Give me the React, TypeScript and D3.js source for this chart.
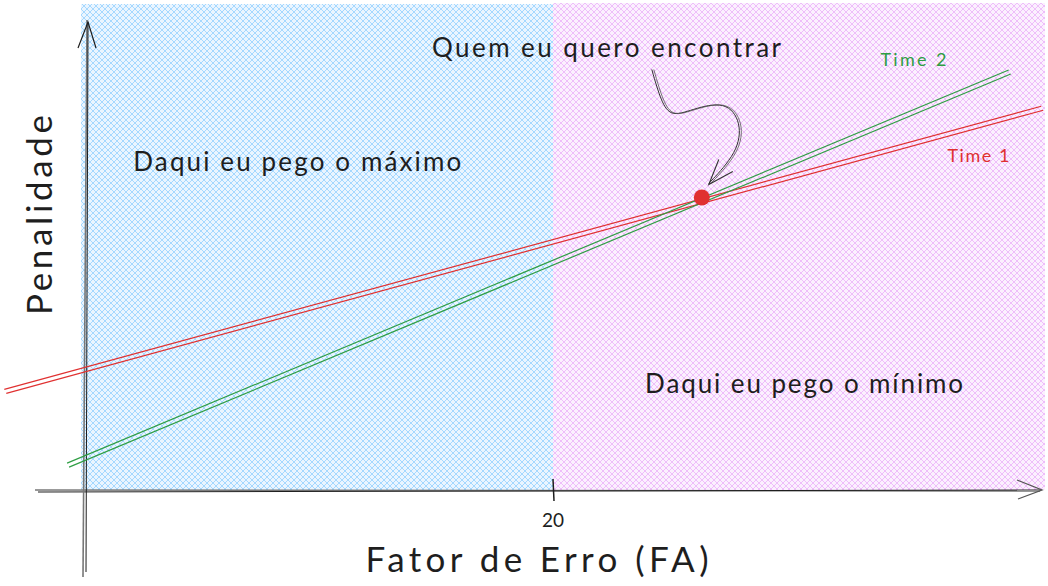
import React, { useRef, useEffect } from 'react';
import { select, scaleLinear, line, curveBasis } from 'd3';

const W = 1048;
const H = 586;

// x = fator de erro (FA), y = penalidade
const faDomain = [0, 20];
const penDomain = [0, 20];
const splitFa = 20;
const xTicks = [20];

const time1 = [{ fa: -3.6, pen: 4.3 }, { fa: 41, pen: 16.4 }];
const time2 = [{ fa: -0.9, pen: 1.15 }, { fa: 39.6, pen: 17.95 }];
const meet = { fa: 26.4, pen: 12.5 };

const labels = [
  { text: 'Time 2', fa: 35.5, pen: 18.1, color: '#2f9e44', len: 66 },
  { text: 'Time 1', fa: 38.3, pen: 14.0, color: '#e03131', len: 62 },
];
const notes = [
  { text: 'Quem eu quero encontrar', fa: 22.3, pen: 18.5, len: 349 },
  { text: 'Daqui eu pego o máximo', fa: 9.0, pen: 13.65, len: 328 },
  { text: 'Daqui eu pego o mínimo', fa: 30.8, pen: 4.15, len: 318 },
];

const FONT = "'Lato', 'DejaVu Sans', sans-serif";
const INK = '#1e1e1e';

const App: React.FC = () => {
  const svgRef = useRef<SVGSVGElement | null>(null);

  useEffect(() => {
    if (!svgRef.current) return;
    const svg = select(svgRef.current);
    svg.selectAll('*').remove();

    const x = scaleLinear().domain(faDomain).range([88, 553]);
    const y = scaleLinear().domain(penDomain).range([490, 22]);

    const defs = svg.append('defs');
    const hatch = (id: string, color: string, bg: string) => {
      const p = defs.append('pattern').attr('id', id).attr('patternUnits', 'userSpaceOnUse')
        .attr('width', 6).attr('height', 6);
      p.append('rect').attr('width', 6).attr('height', 6).attr('fill', bg);
      p.append('path').attr('d', 'M-1,1 l2,-2 M0,6 l6,-6 M5,7 l2,-2').attr('stroke', color).attr('stroke-width', 1);
      p.append('path').attr('d', 'M-1,5 l2,2 M0,0 l6,6 M5,-1 l2,2').attr('stroke', color).attr('stroke-width', 1);
    };
    hatch('hb', '#a5d8ff', '#eaf5ff');
    hatch('hp', '#eebefa', '#fbf0fe');

    // regions
    svg.append('rect').attr('x', 81).attr('y', 4).attr('width', x(splitFa) - 81).attr('height', y(0) - 4)
      .attr('fill', 'url(#hb)');
    svg.append('rect').attr('x', x(splitFa)).attr('y', 3).attr('width', 1045 - x(splitFa)).attr('height', y(0) - 3)
      .attr('fill', 'url(#hp)');

    // axes (double hand-drawn strokes)
    const g = svg.append('g').attr('fill', 'none');
    g.append('path').attr('d', `M35,${y(0)} L1040,${y(0) + 1}`).attr('stroke', '#777').attr('stroke-width', 1.6);
    g.append('path').attr('d', `M38,${y(0) + 2} L1040,${y(0)}`).attr('stroke', INK).attr('stroke-width', 1);
    g.append('path').attr('d', `M1017,${y(0) - 10} L1042,${y(0)} L1018,${y(0) + 9}`).attr('stroke', '#555').attr('stroke-width', 1.3);
    g.append('path').attr('d', `M83,577 L87,20`).attr('stroke', '#777').attr('stroke-width', 1.6);
    g.append('path').attr('d', `M86,572 L88,22`).attr('stroke', INK).attr('stroke-width', 1);
    g.append('path').attr('d', `M78,48 L88,22 L96,48`).attr('stroke', INK).attr('stroke-width', 1.2);

    xTicks.forEach(t => {
      g.append('path').attr('d', `M${x(t)},${y(0) - 11} L${x(t) + 1},${y(0) + 11}`).attr('stroke', INK).attr('stroke-width', 1.5);
      svg.append('text').attr('x', x(t)).attr('y', 527).attr('text-anchor', 'middle')
        .attr('font-family', FONT).attr('font-size', 19).attr('fill', INK).text(String(t));
    });

    // team lines
    const ln = line<{ fa: number; pen: number }>().x(d => x(d.fa)).y(d => y(d.pen));
    const drawTeam = (pts: typeof time1, color: string) => {
      g.append('path').attr('d', ln(pts)).attr('stroke', color).attr('stroke-width', 1.2);
      g.append('path').attr('d', ln(pts)).attr('transform', 'translate(2,4)').attr('stroke', color).attr('stroke-width', 1.2);
    };
    drawTeam(time1, '#e03131');
    drawTeam(time2, '#2f9e44');

    // curved arrow pointing at the meeting point
    const mx = x(meet.fa), my = y(meet.pen);
    const offs: [number, number][] = [[-50, -128], [-42, -100], [-32, -80], [-10, -88], [24, -97], [40, -75], [36, -45], [7, -14]];
    const curve = line<[number, number]>().x(d => mx + d[0]).y(d => my + d[1]).curve(curveBasis);
    g.append('path').attr('d', curve(offs)).attr('stroke', '#333').attr('stroke-width', 1);
    g.append('path').attr('d', curve(offs.map(([a, b]) => [a + 2, b])) as string).attr('stroke', '#555').attr('stroke-width', 0.8);
    g.append('path').attr('d', `M${mx + 17},${my - 38} L${mx + 7},${my - 13} L${mx + 31},${my - 26}`)
      .attr('stroke', '#333').attr('stroke-width', 1.1);

    svg.append('circle').attr('cx', mx).attr('cy', my).attr('r', 8).attr('fill', '#e03131');

    labels.forEach(l => {
      svg.append('text').attr('x', x(l.fa)).attr('y', y(l.pen)).attr('text-anchor', 'middle')
        .attr('font-family', FONT).attr('font-size', 18).attr('fill', l.color)
        .attr('textLength', l.len).attr('lengthAdjust', 'spacing').text(l.text);
    });
    notes.forEach(n => {
      svg.append('text').attr('x', x(n.fa)).attr('y', y(n.pen)).attr('text-anchor', 'middle')
        .attr('font-family', FONT).attr('font-size', 26).attr('fill', INK)
        .attr('textLength', n.len).attr('lengthAdjust', 'spacing').text(n.text);
    });

    svg.append('text').attr('x', 537).attr('y', 572).attr('text-anchor', 'middle')
      .attr('font-family', FONT).attr('font-size', 35).attr('fill', INK)
      .attr('textLength', 343).attr('lengthAdjust', 'spacing').text('Fator de Erro (FA)');
    svg.append('text').attr('transform', 'translate(52,215) rotate(-90)').attr('text-anchor', 'middle')
      .attr('font-family', FONT).attr('font-size', 35).attr('fill', INK)
      .attr('textLength', 200).attr('lengthAdjust', 'spacing').text('Penalidade');
  }, []);

  return (
    <div style={{ position: 'fixed', left: 0, top: 0, width: W, height: H, background: '#fff' }}>
      <svg ref={svgRef} width={W} height={H}></svg>
    </div>
  );
};

export default App;
